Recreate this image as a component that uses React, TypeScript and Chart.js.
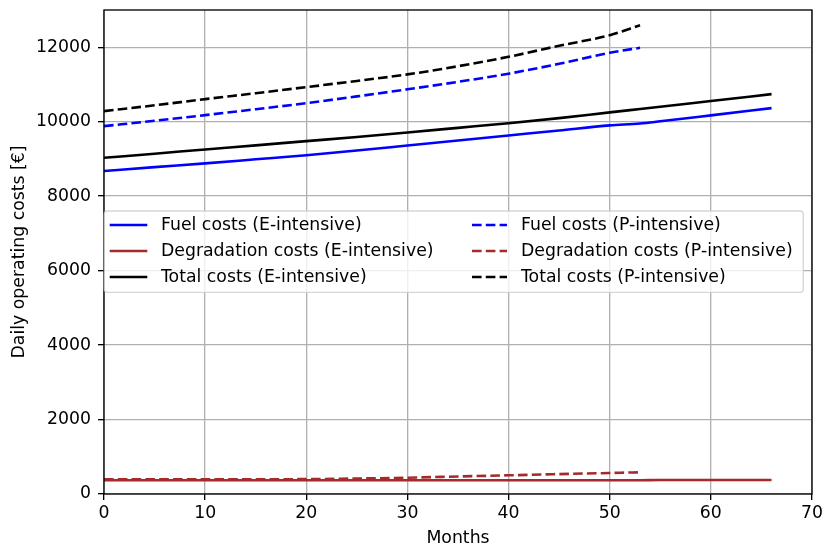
import { useEffect, useRef } from "react";
import { Chart, registerables } from "chart.js";

Chart.register(...registerables);

// E-intensive operation (0–66 months)
const monthsE = [0, 5, 10, 15, 20, 25, 30, 35, 40, 45, 50, 53, 55, 60, 66];
const fuelE = [8675, 8780, 8880, 8990, 9100, 9225, 9360, 9495, 9630, 9765, 9900, 9950, 10010, 10170, 10365];
const degE = [368, 368, 368, 368, 368, 368, 368, 368, 368, 368, 368, 368, 375, 375, 375];
const totalE = [9030, 9140, 9255, 9365, 9478, 9590, 9710, 9835, 9960, 10095, 10250, 10340, 10400, 10555, 10740];

// P-intensive operation (0–53 months)
const monthsP = [0, 5, 10, 15, 20, 25, 30, 35, 40, 45, 50, 53];
const fuelP = [9880, 10025, 10176, 10335, 10498, 10680, 10870, 11070, 11290, 11555, 11850, 11985];
const degP = [394, 394, 394, 395, 400, 415, 438, 470, 502, 535, 564, 583];
const totalP = [10284, 10440, 10606, 10765, 10928, 11095, 11270, 11490, 11743, 12040, 12324, 12592];

const xTickValues = [0, 10, 20, 30, 40, 50, 60, 70];
const yTickValues = [0, 2000, 4000, 6000, 8000, 10000, 12000];

const FONT = "'DejaVu Sans', sans-serif";
const FONT_SIZE = 17.3;
const LINE_W = 2.6;
const DASH = [9.6, 4.2];

const toPoints = (xs: number[], ys: number[]) => xs.map((x, i) => ({ x, y: ys[i] }));

// Draws the four axes spines on top of the data, like a boxed plot frame.
const framePlugin = {
  id: "frame",
  afterDatasetsDraw(chart: any) {
    const { ctx, chartArea } = chart;
    ctx.save();
    ctx.strokeStyle = "#000";
    ctx.lineWidth = 1.33;
    ctx.strokeRect(chartArea.left, chartArea.top, chartArea.right - chartArea.left, chartArea.bottom - chartArea.top);
    ctx.restore();
  },
};

// Two-column legend box inside the plot area.
const legendPlugin = {
  id: "boxLegend",
  afterDraw(chart: any) {
    const { ctx } = chart;
    const box = { l: 104.3, t: 211, r: 803.3, b: 292.3, rad: 3.4 };
    ctx.save();
    ctx.beginPath();
    ctx.roundRect(box.l, box.t, box.r - box.l, box.b - box.t, box.rad);
    ctx.fillStyle = "rgba(255,255,255,0.8)";
    ctx.fill();
    ctx.strokeStyle = "rgba(204,204,204,0.8)";
    ctx.lineWidth = 1.33;
    ctx.stroke();

    const cols = [
      { h0: 111, h1: 146, tx: 161 },
      { h0: 472, h1: 507, tx: 521 },
    ];
    const rows = [225, 251, 277];
    ctx.font = `${FONT_SIZE}px ${FONT}`;
    ctx.textBaseline = "middle";
    ctx.textAlign = "left";
    chart.data.datasets.forEach((ds: any, i: number) => {
      const c = cols[Math.floor(i / 3)];
      const y = rows[i % 3];
      ctx.beginPath();
      ctx.setLineDash(ds.borderDash || []);
      ctx.lineCap = ds.borderDash ? "butt" : "square";
      ctx.strokeStyle = ds.borderColor;
      ctx.lineWidth = ds.borderWidth;
      ctx.moveTo(c.h0, y);
      ctx.lineTo(c.h1, y);
      ctx.stroke();
      ctx.setLineDash([]);
      ctx.fillStyle = "#000";
      ctx.fillText(ds.label, c.tx, y + 1);
    });
    ctx.restore();
  },
};

const noPadding = (s: any) => {
  s.paddingTop = 0;
  s.paddingBottom = 0;
  s.paddingLeft = 0;
  s.paddingRight = 0;
};

export default function App() {
  const canvasRef = useRef<HTMLCanvasElement | null>(null);

  useEffect(() => {
    document.body.style.margin = "0";
    const canvas = canvasRef.current;
    if (!canvas) return;

    const line = (label: string, xs: number[], ys: number[], color: string, dashed: boolean, order: number) => ({
      label,
      data: toPoints(xs, ys),
      borderColor: color,
      backgroundColor: color,
      borderWidth: LINE_W,
      borderDash: dashed ? DASH : undefined,
      pointRadius: 0,
      fill: false,
      cubicInterpolationMode: "monotone" as const,
      order,
    });

    const chart = new Chart(canvas, {
      type: "line",
      data: {
        datasets: [
          line("Fuel costs (E-intensive)", monthsE, fuelE, "#0000ff", false, 6),
          line("Degradation costs (E-intensive)", monthsE, degE, "#a52a2a", false, 5),
          line("Total costs (E-intensive)", monthsE, totalE, "#000000", false, 4),
          line("Fuel costs (P-intensive)", monthsP, fuelP, "#0000ff", true, 3),
          line("Degradation costs (P-intensive)", monthsP, degP, "#a52a2a", true, 2),
          line("Total costs (P-intensive)", monthsP, totalP, "#000000", true, 1),
        ],
      },
      options: {
        responsive: false,
        animation: false,
        devicePixelRatio: 1,
        layout: { padding: { top: 10, right: 12, left: 0, bottom: 0 } },
        plugins: {
          legend: { display: false },
          tooltip: { enabled: false },
        },
        scales: {
          x: {
            type: "linear",
            min: 0,
            max: 70,
            afterFit: (s: any) => {
              s.height = 56;
              noPadding(s);
            },
            afterBuildTicks: (s: any) => {
              s.ticks = xTickValues.map((v) => ({ value: v }));
            },
            border: { display: false },
            grid: {
              color: "#b0b0b0",
              lineWidth: 1.33,
              drawTicks: true,
              tickLength: 6,
              tickColor: "#000",
              tickWidth: 1.33,
            },
            ticks: {
              color: "#000",
              padding: 3,
              maxRotation: 0,
              font: { family: FONT, size: FONT_SIZE },
            },
            title: {
              display: true,
              text: "Months",
              color: "#000",
              padding: { top: 0, bottom: 1.5 },
              font: { family: FONT, size: FONT_SIZE },
            },
          },
          y: {
            type: "linear",
            min: 0,
            max: 13000,
            afterFit: (s: any) => {
              s.width = 104;
              noPadding(s);
            },
            afterBuildTicks: (s: any) => {
              s.ticks = yTickValues.map((v) => ({ value: v }));
            },
            border: { display: false },
            grid: {
              color: "#b0b0b0",
              lineWidth: 1.33,
              drawTicks: true,
              tickLength: 6,
              tickColor: "#000",
              tickWidth: 1.33,
            },
            ticks: {
              color: "#000",
              padding: 7,
              font: { family: FONT, size: FONT_SIZE },
              callback: (v: any) => String(v),
            },
            title: {
              display: true,
              text: "Daily operating costs [€]",
              color: "#000",
              padding: { top: 9.5, bottom: 0 },
              font: { family: FONT, size: FONT_SIZE },
            },
          },
        },
      },
      plugins: [framePlugin, legendPlugin],
    });

    return () => chart.destroy();
  }, []);

  return (
    <div style={{ width: 824, height: 550 }}>
      <canvas ref={canvasRef} width={824} height={550} />
    </div>
  );
}
